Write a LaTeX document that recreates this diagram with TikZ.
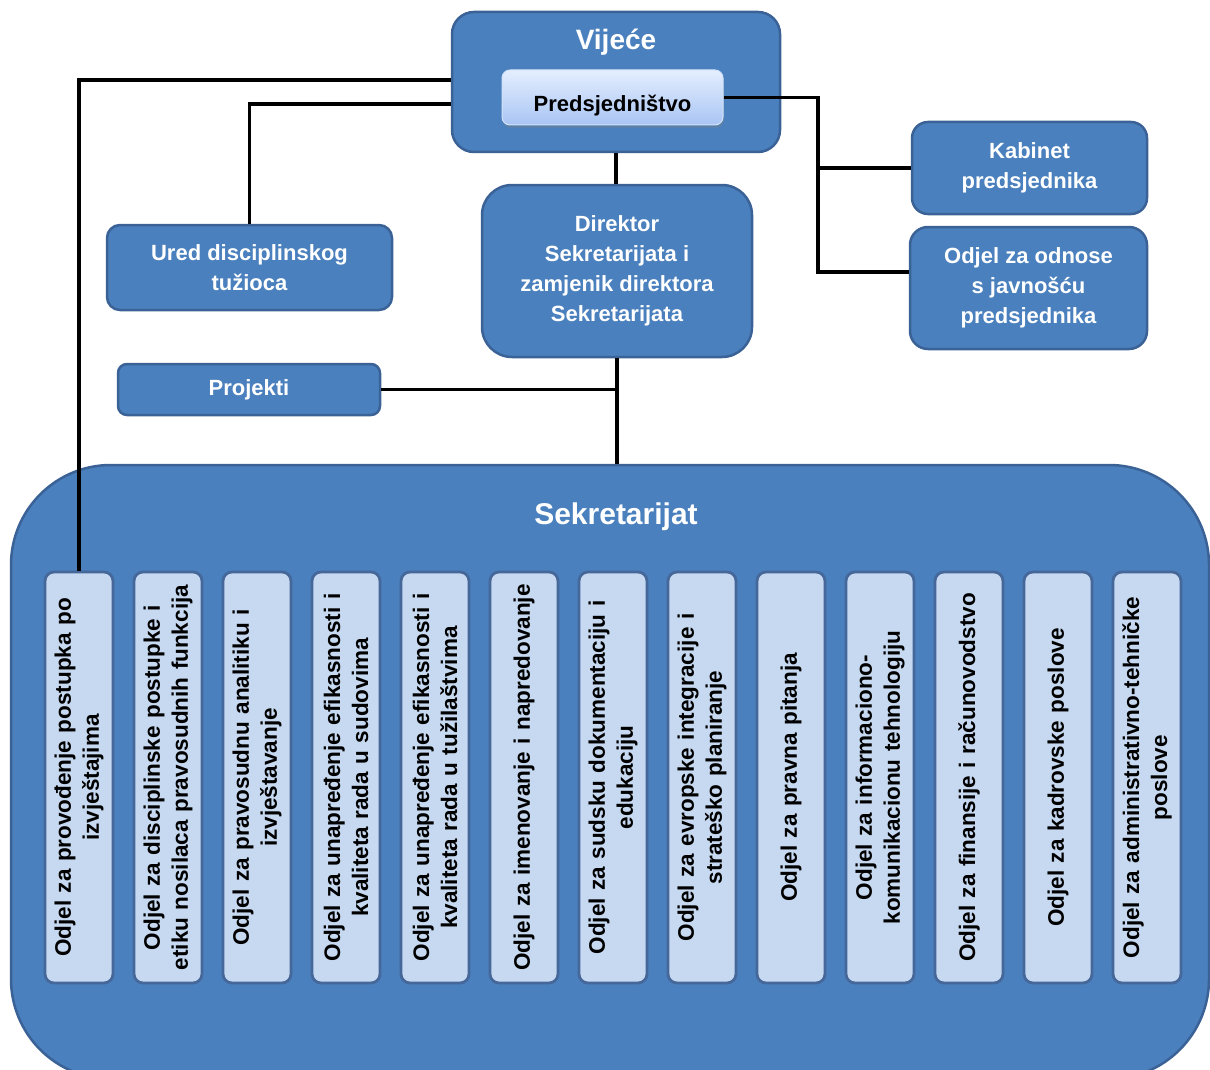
\documentclass[tikz,border=0pt]{standalone}
\usepackage{fontspec}
\setmainfont{Liberation Sans}
\usetikzlibrary{shadows}
\definecolor{unitfill}{HTML}{4A80BD}
\definecolor{unitdraw}{HTML}{3B6296}
\definecolor{odjelfill}{HTML}{C6D9F1}
\definecolor{odjeldraw}{HTML}{46679A}
\definecolor{predtop}{HTML}{E4EEFE}
\definecolor{predbot}{HTML}{A9C5F4}
\tikzset{
  unit/.style={draw=unitdraw,line width=2.5pt,fill=unitfill,text=white,align=center,inner sep=0pt,font=\bfseries\fontsize{22}{30}\selectfont},
  odjel/.style={draw=odjeldraw,line width=2.8pt,fill=odjelfill,rounded corners=9pt,rotate=90,minimum width=411pt,minimum height=68pt,text width=398pt,align=center,inner sep=0pt,font=\bfseries\fontsize{22.5}{28}\selectfont},
  conn/.style={line width=3.5pt,black}
}
\begin{document}
\begin{tikzpicture}[x=1pt,y=-1pt]
\useasboundingbox (0,0) rectangle (1210,1070);
\node[unit,rounded corners=100pt,minimum width=1198pt,minimum height=614pt] (sek) at (610,772) {};
\node[text=white,font=\bfseries\fontsize{30}{36}\selectfont] (sektitle) at (616,517) {Sekretarijat};
\node[odjel] (c1) at (79,777.5) {Odjel za provođenje postupka po\\izvještajima};
\node[odjel] (c2) at (168,777.5) {Odjel za disciplinske postupke i\\etiku nosilaca pravosudnih funkcija};
\node[odjel] (c3) at (257,777.5) {Odjel za pravosudnu analitiku i\\izvještavanje};
\node[odjel] (c4) at (346,777.5) {Odjel za unapređenje efikasnosti i\\kvaliteta rada u sudovima};
\node[odjel] (c5) at (435,777.5) {Odjel za unapređenje efikasnosti i\\kvaliteta rada u tužilaštvima};
\node[odjel] (c6) at (524,777.5) {Odjel za imenovanje i napredovanje};
\node[odjel] (c7) at (613,777.5) {Odjel za sudsku dokumentaciju i\\edukaciju};
\node[odjel] (c8) at (702,777.5) {Odjel za evropske integracije i\\strateško planiranje};
\node[odjel] (c9) at (791,777.5) {Odjel za pravna pitanja};
\node[odjel] (c10) at (880,777.5) {Odjel za informaciono-\\komunikacionu tehnologiju};
\node[odjel] (c11) at (969,777.5) {Odjel za finansije i računovodstvo};
\node[odjel] (c12) at (1058,777.5) {Odjel za kadrovske poslove};
\node[odjel] (c13) at (1147,777.5) {Odjel za administrativno-tehničke\\poslove};
\node[unit,rounded corners=22pt,minimum width=328pt,minimum height=140pt] (vijece) at (616,82) {};
\node[text=white,font=\bfseries\fontsize{28}{32}\selectfont] (vijecetitle) at (616,42) {Vijeće};
\node[draw=predtop!70!predbot,line width=1pt,top color=predtop,bottom color=predbot,rounded corners=8pt,minimum width=221pt,minimum height=55pt,inner sep=0pt,text height=28pt,text depth=0pt,drop shadow={shadow xshift=1pt,shadow yshift=-3pt,opacity=0.3},font=\bfseries\fontsize{22}{30}\selectfont] (predsj) at (612.5,97.5) {Predsjedništvo};
\node[unit,rounded corners=30pt,minimum width=270pt,minimum height=172pt] (direktor) at (617,271) {Direktor\\Sekretarijata i\\zamjenik direktora\\Sekretarijata};
\node[unit,rounded corners=16pt,minimum width=235pt,minimum height=92pt] (kabinet) at (1029.5,168) {Kabinet\\predsjednika};
\node[unit,rounded corners=18pt,minimum width=237pt,minimum height=122pt] (odnosi) at (1028.5,288) {Odjel za odnose\\s javnošću\\predsjednika};
\node[unit,rounded corners=13pt,minimum width=285pt,minimum height=85pt] (ured) at (249.5,267.5) {Ured disciplinskog\\tužioca};
\node[unit,rounded corners=9pt,minimum width=262pt,minimum height=51pt] (projekti) at (249,389.5) {Projekti};
\coordinate (rbus) at (818,97.5);
\draw[conn] (vijece.west |- 0,80) -| (c1.east);
\draw[conn] (vijece.west |- 0,104) -| (ured.north);
\draw[conn] (vijece.south) -- (vijece.south |- direktor.north);
\draw[conn] (predsj.east) -- (rbus) -- (rbus |- 0,272) -- (odnosi.west |- 0,272);
\draw[conn] (rbus |- kabinet.west) -- (kabinet.west);
\draw[conn] (direktor.south) -- (direktor.south |- sek.north);
\draw[conn] (projekti.east) -- (projekti.east -| direktor.south);
\end{tikzpicture}
\end{document}
